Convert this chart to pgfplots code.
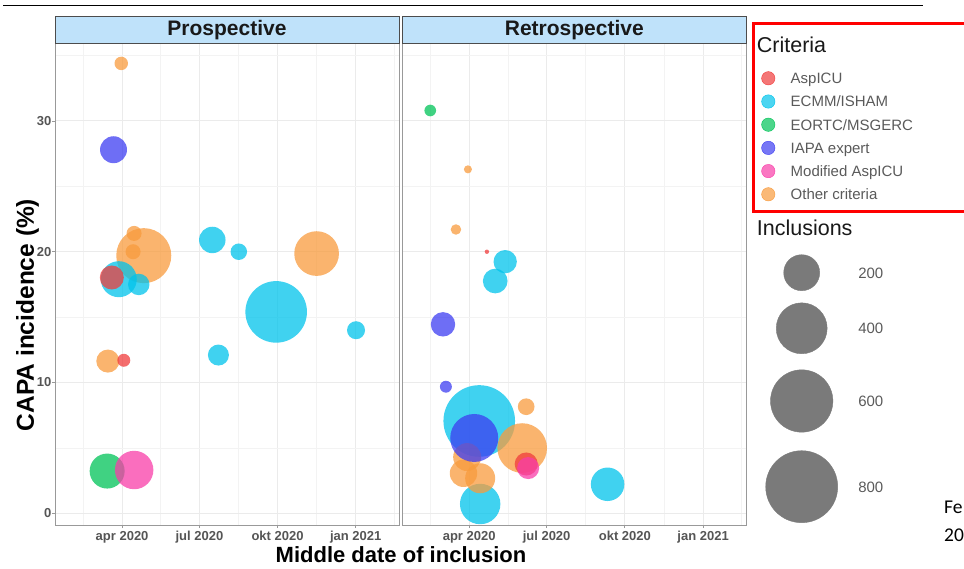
\documentclass[border=0pt]{standalone}
\usepackage{pgfplots}
\pgfplotsset{compat=1.18}
\usepackage{fontspec}
\setmainfont{Liberation Sans}
\newfontfamily\calibri{Carlito}
\definecolor{cAsp}{HTML}{F03C3C}
\definecolor{cECMM}{HTML}{00C3EB}
\definecolor{cEORTC}{HTML}{00C358}
\definecolor{cIAPA}{HTML}{3D3DF1}
\definecolor{cMod}{HTML}{F83DA8}
\definecolor{cOther}{HTML}{F89B3D}
\definecolor{stripblue}{HTML}{BFE2FA}
\definecolor{tickgray}{HTML}{555555}
\definecolor{legtext}{HTML}{5A5A5A}
\definecolor{sizegray}{HTML}{7A7A7A}
\definecolor{gridc}{HTML}{EBEBEB}
\definecolor{gridm}{HTML}{F3F3F3}

% Prospective panel
\pgfplotstableread{
d v n
-1 34.4 28
14.1 21.4 35
12.9 20.0 35
25.5 19.7 467
229 19.86 308
-16.8 11.64 82
}\proOther
\pgfplotstableread{
d v n
-3.9 17.9 200
19.6 17.5 71
106.2 20.9 108
137.4 20.0 42
181.4 15.4 585
275.4 14.0 50
113.4 12.1 68
}\proECMM
\pgfplotstableread{
d v n
-12.1 18.03 89
2.0 11.7 26
}\proAsp
\pgfplotstableread{
d v n
-17.6 3.23 189
}\proEORTC
\pgfplotstableread{
d v n
-10.1 27.8 112
}\proIAPA
\pgfplotstableread{
d v n
14.2 3.31 228
}\proMod

% Retrospective panel
\pgfplotstableread{
d v n
42.3 19.24 84
30.6 17.76 94
11.8 7.06 791
12.9 0.71 252
162.7 2.22 173
}\retECMM
\pgfplotstableread{
d v n
-1.5 26.3 10
-15.6 21.7 17
67 8.15 43
62.3 4.99 380
-2.4 4.3 121
-6.7 3.06 116
12.9 2.68 139
}\retOther
\pgfplotstableread{
d v n
-30.8 14.45 92
-27.4 9.68 22
5.9 5.76 355
}\retIAPA
\pgfplotstableread{
d v n
20.8 20.0 3
67 3.77 82
}\retAsp
\pgfplotstableread{
d v n
69.3 3.46 75
}\retMod
\pgfplotstableread{
d v n
-45.8 30.8 21
}\retEORTC

\pgfplotsset{
 bub/.style={only marks, scatter, mark=*, forget plot,
   scatter/use mapped color={draw=#1, draw opacity=0, fill=#1, fill opacity=0.75},
   visualization depends on={1.273*sqrt(\thisrow{n}) \as \rad},
   scatter/@pre marker code/.append style={/tikz/mark size=\rad}},
 panel/.style={scale only axis, height=482pt, anchor=south west,
   xmin=-79, xmax=326, ymin=-0.894, ymax=35.96,
   axis line style={draw=black!40, line width=0.9pt},
   grid=both,
   major grid style={draw=gridc, line width=1.1pt},
   minor grid style={draw=gridm, line width=0.6pt},
   xtick={0,91,183,275},
   xticklabels={apr 2020,jul 2020,okt 2020,jan 2021},
   minor xtick={-46,45.5,137,229,320},
   ytick={0,10,20,30}, minor ytick={5,15,25,35},
   tick align=outside, major tick length=3pt, minor tick length=0pt,
   tick style={draw=black!40, line width=0.8pt},
   xtick pos=left, ytick pos=left,
   ticklabel style={font=\fontsize{13}{13}\selectfont\bfseries, text=tickgray},
   yticklabel style={inner sep=0pt, xshift=-0.4pt},
   /pgf/number format/assume math mode=true,
   legend style={draw=none, fill=none, inner sep=0pt, outer sep=0pt,
     row sep=0pt, column sep=0pt, anchor=north west,
     font=\fontsize{15}{15}\selectfont, text=legtext,
     nodes={inner sep=0pt, outer sep=0pt},
     cells={anchor=base west}},
 }
}

\begin{document}
\begin{tikzpicture}[x=1pt,y=1pt]
\path[use as bounding box] (0,0) rectangle (964,568);

% top rule of the page
\draw[line width=1.3pt] (3,562.5) -- (923,562.5);

% Prospective
\begin{axis}[panel, at={(55pt,43pt)}, width=344pt,
  legend style={at={(2.03779,0.57324)}}]
\addplot[bub=cOther] table[x=d,y=v] {\proOther};
\addplot[bub=cECMM] table[x=d,y=v] {\proECMM};
\addplot[bub=cAsp] table[x=d,y=v] {\proAsp};
\addplot[bub=cEORTC] table[x=d,y=v] {\proEORTC};
\addplot[bub=cIAPA] table[x=d,y=v] {\proIAPA};
\addplot[bub=cMod] table[x=d,y=v] {\proMod};
\addlegendimage{legend image code/.code={\path[draw=none,fill=none] (0pt,-18.6pt) rectangle (102.3pt,29.4pt); \fill[sizegray] (45.7pt,5.4pt) circle (18pt);}}
\addlegendentry{200}
\addlegendimage{legend image code/.code={\path[draw=none,fill=none] (0pt,-26.2pt) rectangle (102.3pt,37pt); \fill[sizegray] (45.7pt,5.4pt) circle (25.46pt);}}
\addlegendentry{400}
\addlegendimage{legend image code/.code={\path[draw=none,fill=none] (0pt,-35.7pt) rectangle (102.3pt,46.5pt); \fill[sizegray] (45.7pt,5.4pt) circle (31.18pt);}}
\addlegendentry{600}
\addlegendimage{legend image code/.code={\path[draw=none,fill=none] (0pt,-39.2pt) rectangle (102.3pt,50pt); \fill[sizegray] (45.7pt,5.4pt) circle (36pt);}}
\addlegendentry{800}
\end{axis}

% Retrospective
\begin{axis}[panel, at={(402pt,43pt)}, width=344.5pt,
  yticklabels={}, ytick style={draw=none},
  legend style={at={(1.02758,0.95083)}}]
\addplot[bub=cECMM] table[x=d,y=v] {\retECMM};
\addplot[bub=cOther] table[x=d,y=v] {\retOther};
\addplot[bub=cIAPA] table[x=d,y=v] {\retIAPA};
\addplot[bub=cAsp] table[x=d,y=v] {\retAsp};
\addplot[bub=cMod] table[x=d,y=v] {\retMod};
\addplot[bub=cEORTC] table[x=d,y=v] {\retEORTC};
\addlegendimage{legend image code/.code={\path[draw=none,fill=none] (0pt,-6.2pt) rectangle (34.7pt,17pt); \fill[cAsp, fill opacity=0.7] (12.3pt,5.4pt) circle (6.7pt);}}
\addlegendentry{AspICU}
\addlegendimage{legend image code/.code={\path[draw=none,fill=none] (0pt,-6.2pt) rectangle (34.7pt,17pt); \fill[cECMM, fill opacity=0.7] (12.3pt,5.4pt) circle (6.7pt);}}
\addlegendentry{ECMM/ISHAM}
\addlegendimage{legend image code/.code={\path[draw=none,fill=none] (0pt,-6.2pt) rectangle (34.7pt,17pt); \fill[cEORTC, fill opacity=0.7] (12.3pt,5.4pt) circle (6.7pt);}}
\addlegendentry{EORTC/MSGERC}
\addlegendimage{legend image code/.code={\path[draw=none,fill=none] (0pt,-6.2pt) rectangle (34.7pt,17pt); \fill[cIAPA, fill opacity=0.7] (12.3pt,5.4pt) circle (6.7pt);}}
\addlegendentry{IAPA expert}
\addlegendimage{legend image code/.code={\path[draw=none,fill=none] (0pt,-6.2pt) rectangle (34.7pt,17pt); \fill[cMod, fill opacity=0.7] (12.3pt,5.4pt) circle (6.7pt);}}
\addlegendentry{Modified AspICU}
\addlegendimage{legend image code/.code={\path[draw=none,fill=none] (0pt,-6.2pt) rectangle (34.7pt,17pt); \fill[cOther, fill opacity=0.7] (12.3pt,5.4pt) circle (6.7pt);}}
\addlegendentry{Other criteria}
\end{axis}

% facet strips
\draw[draw=black!70, fill=stripblue, line width=0.8pt] (55,525) rectangle (399,552);
\draw[draw=black!70, fill=stripblue, line width=0.8pt] (402,525) rectangle (746.5,552);
\node[anchor=base, inner sep=0pt, font=\fontsize{21}{21}\selectfont\bfseries, text=black!90] at (227,532) {Prospective};
\node[anchor=base, inner sep=0pt, font=\fontsize{21}{21}\selectfont\bfseries, text=black!90] at (574.3,532) {Retrospective};

% axis titles
\node[rotate=90, anchor=base, inner sep=0pt, font=\fontsize{24.5}{24.5}\selectfont\bfseries] at (34,253) {CAPA incidence (\%)};
\node[anchor=base, inner sep=0pt, font=\fontsize{22}{22}\selectfont\bfseries] at (401,6) {Middle date of inclusion};

% legend titles and frame
\draw[red, line width=3.3pt] (753.3,544.7) rectangle (975,356.5);
\node[anchor=base west, inner sep=0pt, font=\fontsize{21.5}{21.5}\selectfont, text=black!90] at (756.7,515) {Criteria};
\node[anchor=base west, inner sep=0pt, font=\fontsize{21.5}{21.5}\selectfont, text=black!90] at (756.7,332) {Inclusions};

% text at right edge of the page
\node[anchor=base west, inner sep=0pt, font=\calibri\fontsize{19.5}{19.5}\selectfont] at (944,54.7) {Fe};
\node[anchor=base west, inner sep=0pt, font=\calibri\fontsize{19.5}{19.5}\selectfont] at (944,26.3) {20};
\end{tikzpicture}
\end{document}
